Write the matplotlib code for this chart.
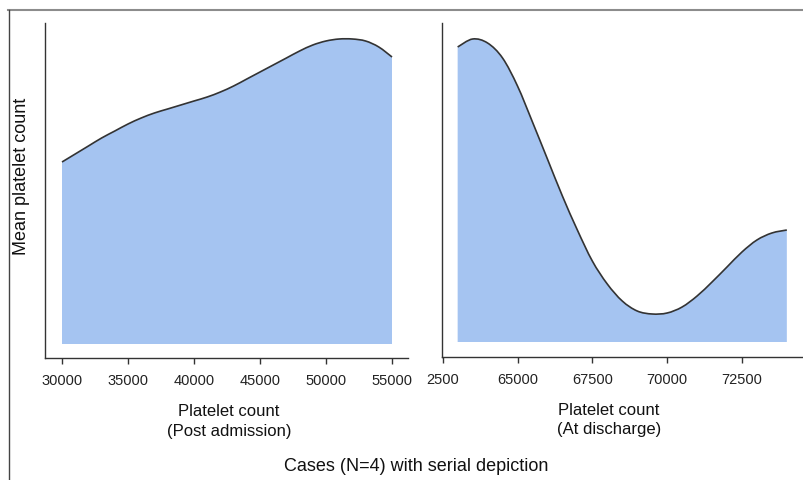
import matplotlib
matplotlib.use('Agg')
import matplotlib.pyplot as plt
from matplotlib.lines import Line2D
from matplotlib.path import Path
from matplotlib.patches import PathPatch

plt.rcParams['font.family'] = ['Liberation Sans', 'DejaVu Sans']

# post admission: platelet count vs relative mean
post_x = [30000, 31000, 32000, 33000, 34000, 35000, 36000, 37000, 38000,
          39000, 40000, 41000, 42000, 43000, 44000, 45000, 46000, 47000,
          48000, 49000, 50000, 51000, 52000, 53000, 54000, 55000]
post_y = [182, 190, 198, 206, 213, 220, 226, 231, 235, 239, 243, 247, 252,
          258, 265, 272, 279, 286, 293, 299, 303, 305, 305, 303, 297, 287]

# at discharge
dis_x = [63000, 63500, 64000, 64500, 65000, 65500, 66000, 66500, 67000,
         67500, 68000, 68500, 69000, 69500, 70000, 70500, 71000, 71500,
         72000, 72500, 73000, 73500, 74000]
dis_y = [295, 303, 299, 284, 256, 220, 183, 146, 112, 81, 58, 41, 31, 28,
         29, 35, 46, 60, 75, 90, 102, 109, 112]

post_ticks = [30000, 35000, 40000, 45000, 50000, 55000]
post_labels = ['30000', '35000', '40000', '45000', '50000', '55000']
dis_ticks = [62500, 65000, 67500, 70000, 72500]
dis_labels = ['2500', '65000', '67500', '70000', '72500']

fill_col = '#a5c4f1'
line_col = '#333333'
W, H = 804, 481


def smooth_path(xs, ys):
    # catmull-rom style bezier through the read points
    verts = [(xs[0], ys[0])]
    codes = [Path.MOVETO]
    n = len(xs)
    for i in range(n - 1):
        x0, y0 = (xs[i - 1], ys[i - 1]) if i > 0 else (xs[i], ys[i])
        x1, y1 = xs[i], ys[i]
        x2, y2 = xs[i + 1], ys[i + 1]
        x3, y3 = (xs[i + 2], ys[i + 2]) if i + 2 < n else (x2, y2)
        verts += [(x1 + (x2 - x0) / 6, y1 + (y2 - y0) / 6),
                  (x2 - (x3 - x1) / 6, y2 - (y3 - y1) / 6),
                  (x2, y2)]
        codes += [Path.CURVE4] * 3
    return verts, codes


fig = plt.figure(figsize=(8.04, 4.81), dpi=100)
ax1 = fig.add_axes([45 / W, 1 - 359 / H, (408 - 45) / W, (359 - 24) / H])
ax2 = fig.add_axes([442 / W, 1 - 358 / H, (803 - 442) / W, (358 - 24) / H])

panels = [
    (ax1, post_x, post_y, (28712, 56212), (-14, 321), post_ticks, post_labels),
    (ax2, dis_x, dis_y, (62477, 74540), (-15, 319), dis_ticks, dis_labels),
]
for ax, xs, ys, xl, yl, tks, lbs in panels:
    verts, codes = smooth_path(xs, ys)
    area = verts + [(xs[-1], 0), (xs[0], 0), (xs[0], ys[0])]
    area_codes = codes + [Path.LINETO, Path.LINETO, Path.CLOSEPOLY]
    ax.add_patch(PathPatch(Path(area, area_codes), facecolor=fill_col,
                           edgecolor='none', lw=0))
    ax.add_patch(PathPatch(Path(verts, codes), facecolor='none',
                           edgecolor=line_col, lw=1.2))
    ax.set_xlim(*xl)
    ax.set_ylim(*yl)
    ax.set_xticks(tks)
    ax.set_xticklabels(lbs)
    ax.set_yticks([])
    ax.tick_params(axis='x', direction='out', length=4, width=1,
                   color='#333333', labelsize=10.5, labelcolor='#222222', pad=7)
    for s in ['top', 'right']:
        ax.spines[s].set_visible(False)
    for s in ['left', 'bottom']:
        ax.spines[s].set_color('#333333')
        ax.spines[s].set_linewidth(1.0)

ax1.set_ylabel('Mean platelet count', fontsize=13, color='#111111')
ax1.yaxis.set_label_coords(-0.04, 0.545)

fig.text(229 / W, 1 - 404 / H, 'Platelet count\n(Post admission)', ha='center',
         va='top', fontsize=12, color='#111111', multialignment='center',
         linespacing=1.4)
fig.text(609 / W, 1 - 403 / H, 'Platelet count\n(At discharge)', ha='center',
         va='top', fontsize=12, color='#111111', multialignment='center',
         linespacing=1.35)
fig.text(416 / W, 1 - 467 / H, 'Cases (N=4) with serial depiction', ha='center',
         va='center', fontsize=13, color='#111111')

# outer frame (top and left edges)
fig.add_artist(Line2D([8 / W, 1], [1 - 11 / H, 1 - 11 / H], color='#8c8c8c',
                      lw=1.5, transform=fig.transFigure))
fig.add_artist(Line2D([9 / W, 9 / W], [1 - 11 / H, 0], color='#444444',
                      lw=1.0, transform=fig.transFigure))

fig.savefig('out.png', dpi=100)
